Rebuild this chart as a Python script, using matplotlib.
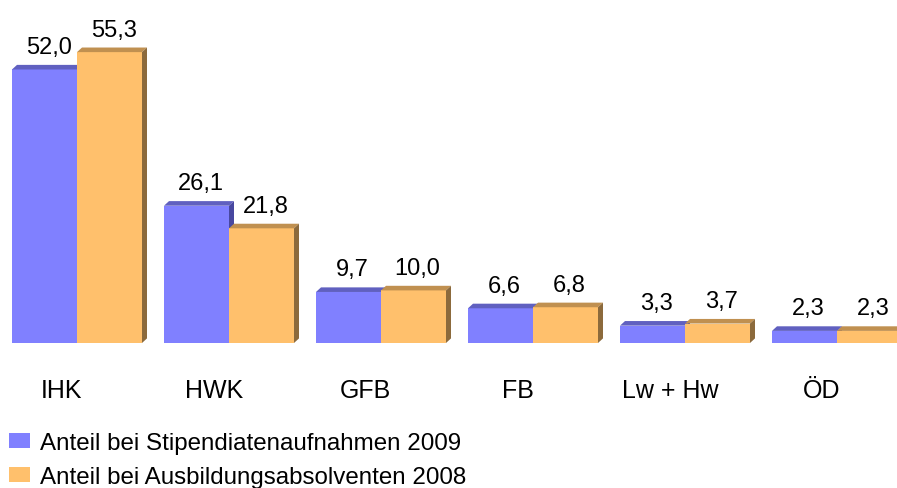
import matplotlib
matplotlib.use("Agg")
import matplotlib.pyplot as plt
from matplotlib.patches import Polygon, Patch

plt.rcParams['font.family'] = ['Liberation Sans', 'DejaVu Sans']

categories = ["IHK", "HWK", "GFB", "FB", "Lw + Hw", "ÖD"]
stipendiaten_2009 = [52.0, 26.1, 9.7, 6.6, 3.3, 2.3]
absolventen_2008 = [55.3, 21.8, 10.0, 6.8, 3.7, 2.3]
series_labels = ["Anteil bei Stipendiatenaufnahmen 2009",
                 "Anteil bei Ausbildungsabsolventen 2008"]

blue_front, blue_top, blue_side = "#8080FF", "#6060C0", "#4848A0"
orange_front, orange_top, orange_side = "#FFC06C", "#C09050", "#8C6A3C"

W, H = 897, 489
fig = plt.figure(figsize=(W / 100, H / 100), dpi=100)
ax = fig.add_axes([1 / W, (H - 344) / H, 896.8 / W, 315.6 / H])
ax.set_xlim(-0.5, 5.4)
ax.set_ylim(0, 60)
for s in ax.spines.values():
    s.set_visible(False)
ax.set_yticks([])

bw = 65 / 152
dx = 5 / 152
dy = 4.6 / 5.26

x = list(range(len(categories)))


def draw_3d(lefts, vals, front, top, side, z):
    bars = ax.bar(lefts, vals, width=bw, align='edge', color=front,
                  edgecolor='none', zorder=z, clip_on=False)
    for l, v in zip(lefts, vals):
        x0, x1 = l, l + bw
        ax.add_patch(Polygon([(x0, v), (x1, v), (x1 + dx, v + dy), (x0 + dx, v + dy)],
                             closed=True, facecolor=top, edgecolor='none', zorder=z, clip_on=False))
        ax.add_patch(Polygon([(x1, 0), (x1 + dx, dy), (x1 + dx, v + dy), (x1, v)],
                             closed=True, facecolor=side, edgecolor='none', zorder=z, clip_on=False))
        ax.annotate(f"{v:.1f}".replace('.', ','), xy=(l + bw / 2, v + dy),
                    xytext=(3, 8.6), textcoords='offset points',
                    ha='center', va='baseline', fontsize=17, color='black',
                    zorder=10, annotation_clip=False)
    return bars


b1 = draw_3d([i - bw for i in x], stipendiaten_2009, blue_front, blue_top, blue_side, 2)
b2 = draw_3d([i for i in x], absolventen_2008, orange_front, orange_top, orange_side, 3)

ax.set_xticks([i - 0.1 for i in x])
ax.set_xticklabels(categories, fontsize=18)
ax.tick_params(axis='x', length=0, pad=25)

fs = 17.4
fpx = fs * 100 / 72
handles = [Patch(facecolor=blue_front, edgecolor='none'),
           Patch(facecolor=orange_front, edgecolor='none')]
fig.legend(handles, series_labels, loc='upper left',
           bbox_to_anchor=(9 / W, 1 - 433 / H), frameon=False,
           fontsize=fs, handlelength=21 / fpx, handleheight=14 / fpx,
           handletextpad=10 / fpx, labelspacing=0.5, borderpad=0, borderaxespad=0)

fig.savefig("out.png", dpi=100, facecolor='white')
